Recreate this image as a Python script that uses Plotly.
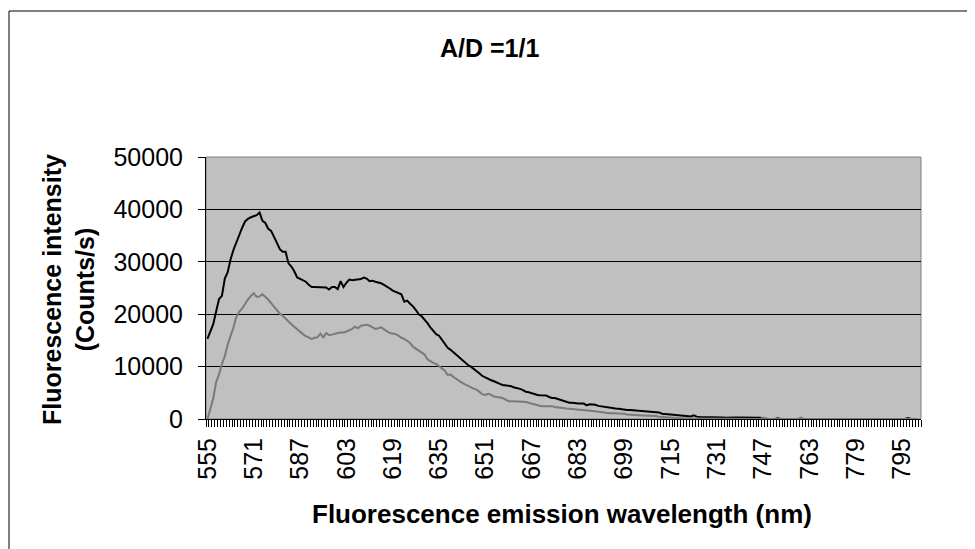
import plotly.graph_objects as go

# Wavelength categories (nm), one per data point
wavelength = list(range(555, 801))

# Upper (black) series, rows of 10 values: 555-564, 565-574, ...
series_black = [
    15300, 16800, 18100, 20500, 22900, 23500, 26800, 28000, 30500, 32300,
    33800, 35300, 36500, 37700, 38200, 38500, 38700, 38900, 39400, 37800,
    37400, 36300, 35900, 34600, 33600, 32400, 31900, 31900, 29700, 29100,
    28200, 27000, 26700, 26400, 26200, 25600, 25200, 25200, 25200, 25200,
    25200, 25100, 24700, 25200, 25200, 24800, 26300, 25200, 26000, 26600,
    26500, 26600, 26600, 26700, 27000, 26800, 26300, 26400, 26200, 26100,
    25900, 25600, 25300, 24900, 24500, 24300, 24000, 23800, 22400, 22600,
    22000, 21500, 20800, 20000, 19600, 19000, 18300, 17500, 16900, 16200,
    15900, 15200, 14300, 13600, 13200, 12700, 12300, 11800, 11300, 10700,
    10300, 10000, 9600, 9200, 8700, 8200, 7900, 7600, 7400, 7200,
    6900, 6700, 6500, 6400, 6300, 6250, 6000, 5900, 5750, 5500,
    5200, 5100, 4900, 4700, 4600, 4550, 4500, 4500, 4200, 4000,
    4000, 3800, 3700, 3500, 3300, 3100, 3100, 3000, 2950, 2950,
    2950, 2600, 2800, 2750, 2700, 2500, 2400, 2300, 2300, 2200,
    2050, 2000, 1950, 1850, 1800, 1700, 1700, 1650, 1600, 1550,
    1550, 1500, 1450, 1400, 1400, 1300, 1250, 1000, 900, 900,
    850, 800, 750, 700, 650, 600, 550, 500, 700, 450,
    400, 400, 350, 400, 350, 300, 350, 300, 300, 250,
    300, 300, 300, 300, 300, 300, 300, 300, 300, 300,
    250, 250, 100, 0, 0, 0, 0, 150, 0, 0,
    0, 0, 0, 0, 0, 0, 0, 0, 0, 0,
    0, 0, 0, 0, 0, 0, 0, 0, 0, 0,
    0, 0, 0, 0, 0, 0, 0, 0, 0, 0,
    0, 0, 0, 0, 0, 0, 0, 0, 0, 0,
    0, 0, 200, 0, 0, 0,
]

# Lower (grey) series, same layout
series_grey = [
    0, 1800, 3900, 7000, 8500, 10500, 12000, 14200, 15800, 17500,
    19500, 20500, 21100, 22000, 22800, 23500, 24000, 23300, 23400, 23800,
    23300, 22800, 22100, 21400, 20700, 20100, 19700, 19100, 18600, 18100,
    17600, 17100, 16700, 16200, 15800, 15500, 15300, 15500, 15600, 16300,
    15600, 16400, 16000, 16100, 16300, 16400, 16500, 16500, 16700, 16900,
    17200, 17600, 17300, 17800, 17900, 18000, 17800, 17500, 17200, 17300,
    17500, 17100, 16700, 16400, 16300, 16200, 15900, 15500, 15300, 14900,
    14500, 13800, 13400, 13100, 12700, 12300, 11400, 11000, 10700, 10500,
    10100, 9700, 9200, 8400, 8500, 8000, 7600, 7200, 6900, 6600,
    6300, 6000, 5800, 5600, 5200, 4700, 4600, 4800, 4600, 4300,
    4200, 4100, 4000, 3700, 3400, 3400, 3400, 3400, 3300, 3300,
    3250, 3100, 2900, 2750, 2650, 2500, 2450, 2450, 2450, 2450,
    2300, 2200, 2100, 2050, 2000, 1950, 1900, 1850, 1850, 1800,
    1800, 1750, 1650, 1550, 1500, 1400, 1300, 1200, 1100, 1100,
    1100, 1100, 1100, 1050, 1000, 850, 800, 750, 700, 650,
    600, 600, 600, 600, 600, 550, 450, 400, 400, 350,
    300, 250, 200, 150, 100, 100, 100, 100, 100, 100,
    100, 50, 50, 0, 0, 0, 0, 0, 0, 0,
    0, 0, 0, 0, 0, 0, 0, 0, 0, 0,
    0, 0, 250, 0, 0, 0, 0, 0, 0, 0,
    0, 0, 0, 0, 0, 250, 0, 0, 0, 0,
    0, 0, 0, 0, 0, 0, 0, 0, 0, 0,
    0, 0, 0, 0, 0, 0, 0, 0, 0, 0,
    0, 0, 0, 0, 0, 0, 0, 0, 0, 0,
    0, 0, 0, 0, 0, 0,
]

x_tick_labels = [555, 571, 587, 603, 619, 635, 651, 667, 683, 699, 715, 731, 747, 763, 779, 795]
y_tick_values = [0, 10000, 20000, 30000, 40000, 50000]

title_text = "A/D =1/1"
x_title = "Fluorescence emission wavelength (nm)"
y_title = "Fluorescence intensity<br>(Counts/s)"

FONT = "Liberation Sans, Arial, sans-serif"

fig = go.Figure()
fig.add_trace(go.Scatter(x=wavelength, y=series_black, mode="lines",
                         line=dict(color="#000000", width=2), showlegend=False,
                         hoverinfo="skip"))
fig.add_trace(go.Scatter(x=wavelength, y=series_grey, mode="lines",
                         line=dict(color="#7a7a7a", width=2), showlegend=False,
                         hoverinfo="skip"))

# The page body adds an 8px offset; the figure is sized/positioned to compensate.
OFF = 8
W, H = 975 - OFF, 549 - OFF
# plot area in screen pixels: x 206..921, y 157..419
L = 206 - OFF
T = 157 - OFF
R = W - (921 - OFF)
B = H - (419 - OFF)
pw, ph = W - L - R, H - T - B


def px(xs):
    return (xs - OFF - L) / pw


def py(ys):
    return (H - B - (ys - OFF)) / ph


fig.update_layout(
    width=W, height=H,
    margin=dict(l=L, r=R, t=T, b=B, pad=0),
    paper_bgcolor="white",
    plot_bgcolor="#c0c0c0",
    font=dict(family=FONT, color="black"),
    xaxis=dict(
        range=[554.5, 801.5],
        tickmode="array",
        tickvals=x_tick_labels,
        ticktext=[str(v) for v in x_tick_labels],
        tickangle=-90,
        ticks="",
        tickfont=dict(size=25, family=FONT),
        ticklabelstandoff=8,
        showgrid=False,
        zeroline=False,
        showline=True, linecolor="black", linewidth=1,
        minor=dict(tickmode="linear", tick0=554.5, dtick=1, ticks="outside",
                   ticklen=7, tickcolor="#000000", tickwidth=1, showgrid=False),
    ),
    yaxis=dict(
        range=[0, 50000],
        tickmode="array",
        tickvals=y_tick_values,
        ticktext=[str(v) for v in y_tick_values],
        ticks="outside", ticklen=7, tickcolor="black",
        tickfont=dict(size=25, family=FONT),
        ticklabelstandoff=10,
        showgrid=True, gridcolor="black", gridwidth=1,
        zeroline=False,
        showline=True, linecolor="black", linewidth=1,
    ),
    shapes=[
        # plot-area border (grey)
        dict(type="rect", xref="paper", yref="paper", x0=0, x1=1, y0=0, y1=1,
             line=dict(color="#808080", width=1), layer="below"),
        # chart-area border
        dict(type="rect", xref="paper", yref="paper",
             x0=px(OFF + 1), x1=px(972), y0=py(570), y1=py(11),
             line=dict(color="black", width=1)),
    ],
    annotations=[
        dict(text="<b>" + title_text + "</b>", xref="paper", yref="paper",
             x=px(489), y=py(48), xanchor="center", yanchor="middle",
             showarrow=False, font=dict(size=25, family=FONT)),
        dict(text="<b>" + y_title + "</b>", xref="paper", yref="paper",
             x=px(68), y=py(290), xanchor="center", yanchor="middle",
             textangle=-90, showarrow=False, font=dict(size=25, family=FONT)),
        dict(text="<b>" + x_title + "</b>", xref="paper", yref="paper",
             x=px(562), y=py(514), xanchor="center", yanchor="middle",
             showarrow=False, font=dict(size=26, family=FONT)),
    ],
)

fig.write_html("out.html")
